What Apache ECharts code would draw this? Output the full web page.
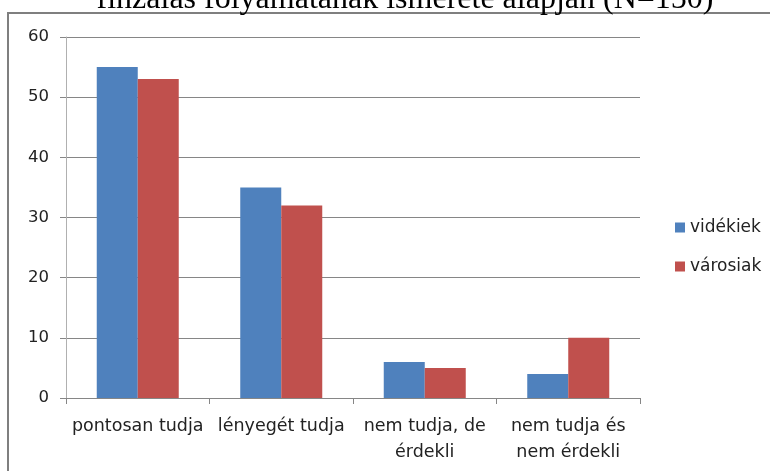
<!DOCTYPE html>
<html><head><meta charset="utf-8">
<script src="https://cdn.jsdelivr.net/npm/echarts@6/dist/echarts.min.js"></script>
<style>html,body{margin:0;padding:0;background:#fff}#c{width:770px;height:471px}</style>
</head><body><div id="c"></div>
<script>
const categories = ['pontosan tudja', 'lényegét tudja', 'nem tudja, de\nérdekli', 'nem tudja és\nnem érdekli'];
const videkiek = [55, 35, 6, 4];
const varosiak = [53, 32, 5, 10];
const seriesNames = ['vidékiek', 'városiak'];
const titleText = 'finzálás folyamatának ismerete alapján (N=150)';

const chart = echarts.init(document.getElementById('c'));
const font = '"DejaVu Sans", sans-serif';
chart.setOption({
  animation: false,
  grid: {left: 66, right: 130, top: 37, bottom: 73},
  legend: {
    orient: 'vertical', left: 670, top: 214, itemGap: 22,
    itemWidth: 10, itemHeight: 10, icon: 'rect', itemStyle: {borderWidth: 0},
    textStyle: {fontFamily: font, fontSize: 17, color: '#222'},
    data: seriesNames
  },
  xAxis: {
    type: 'category', data: categories,
    axisLine: {lineStyle: {color: '#868686'}},
    axisTick: {show: true, length: 6, lineStyle: {color: '#868686'}},
    axisLabel: {fontFamily: font, fontSize: 17.5, color: '#222', margin: 15, lineHeight: 26, interval: 0}
  },
  yAxis: {
    type: 'value', min: 0, max: 60, interval: 10,
    axisLine: {show: true, lineStyle: {color: '#b0b0b0'}},
    axisTick: {show: true, length: 6, lineStyle: {color: '#868686'}},
    splitLine: {lineStyle: {color: '#868686'}},
    axisLabel: {fontFamily: font, fontSize: 16.5, color: '#222', margin: 17}
  },
  series: [
    {name: seriesNames[0], type: 'bar', data: videkiek, barWidth: 41, barGap: '0%',
     itemStyle: {color: '#4f81bd'}},
    {name: seriesNames[1], type: 'bar', data: varosiak, barWidth: 41,
     itemStyle: {color: '#c0504d'}}
  ],
  graphic: [
    {type: 'rect', shape: {x: 8, y: 13, width: 800, height: 500}, silent: true, z: -1,
     style: {fill: 'none', stroke: '#7f7f7f', lineWidth: 2}},
    {type: 'text', x: 405, y: 0, silent: true,
     style: {text: titleText, font: '32px "Liberation Serif", serif', fill: '#000', align: 'center', verticalAlign: 'middle'}}
  ]
});
</script></body></html>
